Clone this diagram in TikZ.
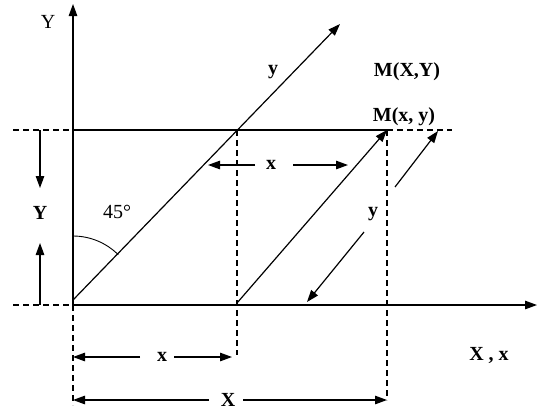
\documentclass[tikz,border=0pt]{standalone}
\usepackage{fontspec}
\setmainfont{Liberation Serif}
\usetikzlibrary{arrows.meta}
\begin{document}
\begin{tikzpicture}[x=1pt,y=-1pt,
 ln/.style={line width=1.2pt},
 arr/.style={ln,-{Triangle[length=12pt,width=8.5pt]}},
 dsh/.style={line width=1.2pt,dash pattern=on 6pt off 4pt},
 lbl/.style={font=\fontsize{20}{23}\selectfont\bfseries, inner sep=0pt},
 lblr/.style={font=\fontsize{20}{23}\selectfont, inner sep=0pt}]
\useasboundingbox (0,0) rectangle (537,410);
% key points
\coordinate (O) at (73,305);
\coordinate (D0) at (73,300);
\coordinate (Ytip) at (73,4);
\coordinate (Xtip) at (537,305);
\coordinate (L) at (73,130);
\coordinate (A) at (237,130);
\coordinate (B) at (237,303);
\coordinate (M) at (387,130);
\coordinate (Mr) at (452,130);
\coordinate (Dtip) at (340,24);
\coordinate (LL) at (13,130);
\coordinate (LB) at (13,305);
% axes
\draw[arr] (O) -- (Ytip);
\draw[arr] (O) -- (Xtip);
\draw[ln] (L) -- (M);
\draw[dsh] (M) -- (Mr);
\draw[dsh] (LL) -- (L);
\draw[dsh] (LB) -- (O);
% diagonals
\draw[arr] (D0) -- (Dtip);
\draw[arr] (B) -- (M);
% dashed verticals
\coordinate (Ad) at (237,355);
\coordinate (Md) at (387,400);
\coordinate (Od) at (73,405);
\draw[dsh] (A) -- (Ad);
\draw[dsh] (M) -- (Md);
\draw[dsh] (O) -- (Od);
% 45 degree arc
\draw[line width=0.9pt] (73,236) arc[start angle=-90,end angle=-45,radius=64];
\node[lblr] (ang) at (117,212) {45°};
% labels
\node[lblr] (Ylab) at (48,22) {Y};
\node[lbl] (ydiag) at (273,72) {y};
\node[lbl] (MXY) at (407,72) {M(X,Y)};
\node[lbl] (Mxy) at (404,117) {M(x, y)};
\node[lbl] (XX) at (489,355) {X , x};
% x arrows between diagonals
\node[lbl] (xmid) at (271,165) {x};
\coordinate (xa1) at (255,165); \coordinate (xa2) at (208,165);
\coordinate (xb1) at (293,165); \coordinate (xb2) at (348,165);
\draw[arr] (xa1) -- (xa2);
\draw[arr] (xb1) -- (xb2);
% y arrows on right
\node[lbl] (yr) at (373,214) {y};
\coordinate (ya1) at (395,187); \coordinate (ya2) at (438,131);
\coordinate (yb1) at (364,232); \coordinate (yb2) at (307,302);
\draw[arr] (ya1) -- (ya2);
\draw[arr] (yb1) -- (yb2);
% Y dimension on left
\node[lbl] (Yd) at (40,213) {Y};
\coordinate (Yd1) at (40,130); \coordinate (Yd2) at (40,188);
\coordinate (Yd3) at (40,305); \coordinate (Yd4) at (40,243);
\draw[arr] (Yd1) -- (Yd2);
\draw[arr] (Yd3) -- (Yd4);
% x dimension
\node[lbl] (xd) at (162,357) {x};
\coordinate (xd1) at (140,357); \coordinate (xd2) at (73,357);
\coordinate (xd3) at (174,357); \coordinate (xd4) at (232,357);
\draw[arr] (xd1) -- (xd2);
\draw[arr] (xd3) -- (xd4);
% X dimension
\node[lbl] (Xd) at (228,400) {X};
\coordinate (Xd1) at (209,400); \coordinate (Xd2) at (73,400);
\coordinate (Xd3) at (243,400); \coordinate (Xd4) at (387,400);
\draw[arr] (Xd1) -- (Xd2);
\draw[arr] (Xd3) -- (Xd4);
\end{tikzpicture}
\end{document}
